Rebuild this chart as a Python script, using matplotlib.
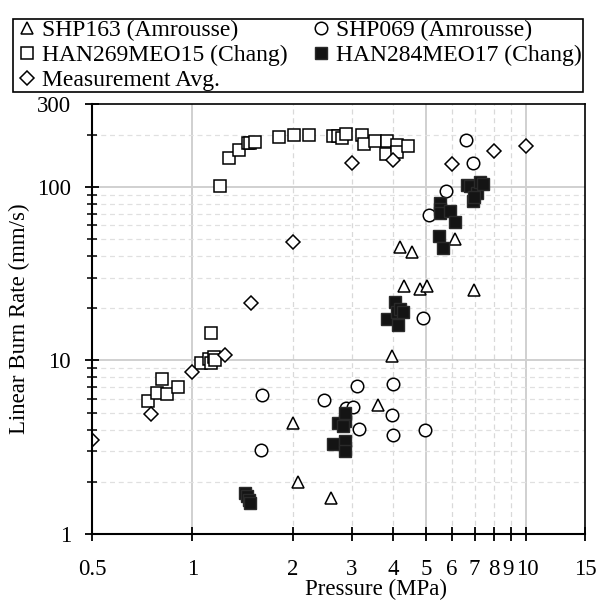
import matplotlib.pyplot as plt
from matplotlib.ticker import FixedLocator, NullFormatter, FixedFormatter
from matplotlib.transforms import ScaledTranslation

plt.rcParams['font.family'] = ['Liberation Serif', 'DejaVu Serif']
plt.rcParams['font.size'] = 16.5

# SHP163 (Amrousse) - open triangles
shp163_p = [2.0, 2.07, 2.6, 3.6, 3.95, 4.19, 4.54, 4.3, 4.81, 5.03, 6.12, 6.98]
shp163_r = [4.35, 2.0, 1.62, 5.5, 10.6, 44.8, 42.0, 27.0, 25.9, 26.7, 50.0, 25.3]

# SHP069 (Amrousse) - open circles
shp069_p = [1.6, 1.62, 2.48, 2.88, 3.02, 3.12, 3.15, 3.97, 4.0, 4.0, 4.92, 4.98, 5.12, 5.74, 6.59, 6.92]
shp069_r = [3.05, 6.3, 5.9, 5.35, 5.4, 7.1, 4.04, 4.86, 7.3, 3.73, 17.6, 3.95, 69.0, 94.6, 187.0, 138.0]

# HAN269MEO15 (Chang) - open squares
han269_p = [0.738, 0.783, 0.809, 0.839, 0.903, 1.06, 1.12, 1.14, 1.16, 1.17, 1.138,
            1.21, 1.29, 1.375, 1.466, 1.49, 1.535, 1.817, 2.02, 2.23, 2.64, 2.73,
            2.80, 2.88, 3.21, 3.27, 3.52, 3.82, 3.80, 4.09, 4.09, 4.41]
han269_r = [5.8, 6.47, 7.78, 6.38, 7.07, 9.7, 10.2, 9.7, 10.5, 10.1, 14.4,
            101.6, 147, 162, 179, 178, 182, 193, 200, 200, 197, 195,
            191, 202, 198, 177, 183, 183, 155, 175, 158, 171]

# HAN284MEO17 (Chang) - filled squares
han284_p = [1.44, 1.46, 1.48, 1.49, 2.64, 2.73, 2.86, 2.86, 2.86, 2.86, 2.83,
            3.82, 4.04, 4.09, 4.14, 4.19, 4.28, 5.49, 5.62, 5.52, 5.52, 5.5,
            5.91, 6.12, 6.63, 6.79, 7.11, 6.92, 7.28, 7.43, 6.96]
han284_r = [1.72, 1.65, 1.58, 1.5, 3.3, 4.35, 4.45, 4.97, 3.42, 3.0, 4.17,
            17.4, 21.7, 19.0, 15.9, 19.9, 19.0, 52.3, 44.4, 81.2, 74.3, 71.0,
            72.7, 62.4, 103, 101, 92.6, 82.9, 106, 104, 87]

# Measurement Avg. - open diamonds
avg_p = [0.5, 0.75, 1.0, 1.25, 1.5, 2.0, 3.0, 4.0, 6.0, 8.0, 10.0]
avg_r = [3.5, 4.9, 8.6, 10.8, 21.5, 48, 138, 142, 136, 160, 171]

xticks = [0.5, 1, 2, 3, 4, 5, 6, 7, 8, 9, 10, 15]
xticklabels = ['0.5', '1', '2', '3', '4', '5', '6', '7', '8', '9', '10', '15']
yticks = [1, 10, 100, 300]
yminor = [2, 3, 4, 5, 6, 7, 8, 9, 20, 30, 40, 50, 60, 70, 80, 90, 200]
xgrid_solid = [1, 5, 10]
xgrid_dash = [2, 3, 4, 6, 7, 8, 9]
ygrid_solid = [10, 100]

fig = plt.figure(figsize=(6, 6.03), dpi=100)
ax = fig.add_axes([0.1533, 0.1144, 0.8217, 0.7131])
ax.set_xscale('log')
ax.set_yscale('log')
ax.set_xlim(0.5, 15)
ax.set_ylim(1, 300)

for v in xgrid_solid:
    ax.axvline(v, color='#d0d0d0', lw=1.4, zorder=0)
for v in xgrid_dash:
    ax.axvline(v, color='#d9d9d9', lw=0.9, ls=(0, (4, 3)), zorder=0)
for v in ygrid_solid:
    ax.axhline(v, color='#d0d0d0', lw=1.4, zorder=0)
for v in yminor:
    ax.axhline(v, color='#e0e0e0', lw=0.9, ls=(0, (4, 3)), zorder=0)

mk = dict(ls='none', ms=9, mec='black', mew=1.1)
h1, = ax.plot(shp163_p, shp163_r, marker='^', mfc='white', label='SHP163 (Amrousse)', **mk)
h2, = ax.plot(shp069_p, shp069_r, marker='o', mfc='white', label='SHP069 (Amrousse)', **mk)
h3, = ax.plot(han269_p, han269_r, marker='s', mfc='white', label='HAN269MEO15 (Chang)', **mk)
h4, = ax.plot(han284_p, han284_r, marker='s', mfc='#141414', label='HAN284MEO17 (Chang)',
              ls='none', ms=9, mec='#2a2a2a', mew=1.0)
h5, = ax.plot(avg_p, avg_r, marker='D', mfc='white', label='Measurement Avg.',
              ls='none', ms=7.3, mec='black', mew=1.1)

ax.xaxis.set_major_locator(FixedLocator(xticks))
ax.xaxis.set_major_formatter(FixedFormatter(xticklabels))
ax.xaxis.set_minor_locator(FixedLocator([]))
ax.yaxis.set_major_locator(FixedLocator(yticks))
ax.yaxis.set_major_formatter(FixedFormatter([str(t) for t in yticks]))
ax.yaxis.set_minor_locator(FixedLocator(yminor))
ax.yaxis.set_minor_formatter(NullFormatter())
ax.tick_params(axis='both', which='major', direction='inout', length=10, width=1.3)
ax.tick_params(axis='y', which='minor', direction='inout', length=7, width=1.1)
ax.tick_params(axis='x', which='major', pad=13)
ax.tick_params(axis='y', which='major', pad=10)

# nudge the crowded "9" and "10" labels apart
fig.canvas.draw()
xlabs = ax.get_xticklabels()
xlabs[9].set_transform(xlabs[9].get_transform() + ScaledTranslation(-2.5 / 100, 0, fig.dpi_scale_trans))
xlabs[10].set_transform(xlabs[10].get_transform() + ScaledTranslation(1.5 / 100, 0, fig.dpi_scale_trans))

for s in ['left', 'bottom']:
    ax.spines[s].set_linewidth(1.5)
for s in ['top', 'right']:
    ax.spines[s].set_linewidth(1.2)

ax.set_xlabel('Pressure (MPa)')
ax.xaxis.set_label_coords(0.576, -0.105)
ax.set_ylabel('Linear Burn Rate (mm/s)')
ax.yaxis.set_label_coords(-0.125, 0.5)

fig.legend([h1, h3, h5, h2, h4],
           ['SHP163 (Amrousse)', 'HAN269MEO15 (Chang)', 'Measurement Avg.',
            'SHP069 (Amrousse)', 'HAN284MEO17 (Chang)'],
           loc='lower left', bbox_to_anchor=(0.021, 0.847, 0.951, 0.123),
           mode='expand', ncol=2, borderaxespad=0, fancybox=False,
           edgecolor='black', framealpha=1, handlelength=1.1, handletextpad=0.1,
           borderpad=0.05, labelspacing=0.14, columnspacing=0.5, markerscale=1.0,
           fontsize=17)
fig.legends[0].get_frame().set_linewidth(1.2)

fig.savefig('out.png', dpi=100)
